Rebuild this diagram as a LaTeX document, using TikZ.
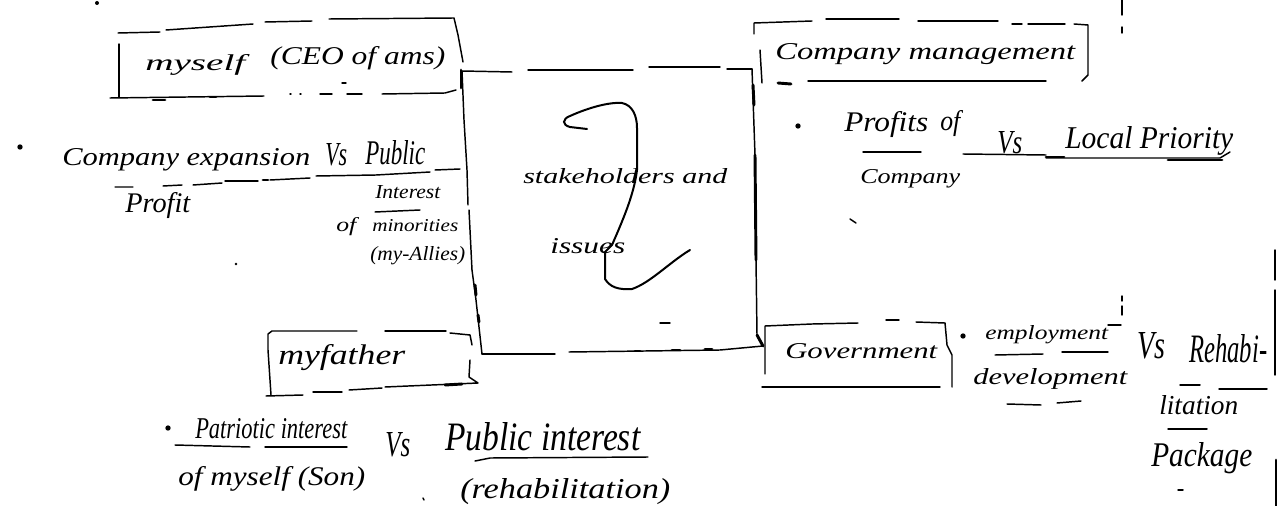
\documentclass[tikz,border=0pt]{standalone}
\usepackage{fontspec}
\usepackage{graphicx}
\setmainfont{Liberation Serif}
\newcommand{\hwtext}[6]{\node[hand] (#1) at (#2,#3) {\resizebox{\dimexpr 0.75pt*#4\relax}{\dimexpr 0.75pt*#5\relax}{#6}};}
\tikzset{
  hand/.style={anchor=base west,inner sep=0pt,font=\itshape\fontsize{20}{22}\selectfont,text=black},
  ink/.style={line width=1.1pt,black,line cap=round,line join=round},
  heavy/.style={line width=2.2pt,black,line cap=round,line join=round},
  speck/.style={circle,fill=black,inner sep=0pt,minimum size=4pt}
}
\begin{document}
\begin{tikzpicture}[x=0.75pt,y=-0.75pt]
\useasboundingbox (0,0) rectangle (1277,506);
\fill[white] (0,0) rectangle (1277,506);

% hub corners
\coordinate (hubTL) at (462,71);
\coordinate (hubTR) at (752,69);
\coordinate (hubBL) at (482,354);
\coordinate (hubBR) at (763,346);

% texts
\hwtext{myselfT}{145}{71}{100}{16}{myself}
\hwtext{ceo}{270}{65}{175}{18}{(CEO of ams)}
\hwtext{expansion}{62}{166}{248}{17}{Company expansion}
\hwtext{vsA}{325}{166}{22}{22}{Vs}
\hwtext{publicA}{365}{165}{60}{24}{Public}
\hwtext{profit}{125}{212}{65}{20}{Profit}
\hwtext{interestA}{375}{199}{65}{13}{Interest}
\hwtext{ofA}{336}{231}{20}{14}{of}
\hwtext{minorities}{372}{231}{86}{12}{minorities}
\hwtext{allies}{370}{260}{95}{14}{(my-Allies)}
\hwtext{stake}{523}{184}{204}{15}{stakeholders and}
\hwtext{issues}{550}{253}{75}{15}{issues}
\hwtext{mgmt}{775}{60}{300}{16}{Company management}
\hwtext{profits}{844}{132}{84}{20}{Profits}
\hwtext{ofB}{940}{131}{20}{20}{of}
\hwtext{company}{860}{183}{100}{14}{Company}
\hwtext{vsB}{997}{154}{25}{22}{Vs}
\hwtext{local}{1065}{149}{168}{22}{Local Priority}
\hwtext{gov}{785}{358}{152}{15}{Government}
\hwtext{employment}{985}{339}{123}{14}{employment}
\hwtext{development}{973}{384}{154}{16}{development}
\hwtext{vsC}{1137}{358}{28}{26}{Vs}
\hwtext{rehabi}{1189}{362}{78}{28}{Rehabi-}
\hwtext{litation}{1159}{414}{79}{19}{litation}
\hwtext{package}{1151}{466}{101}{24}{Package}
\hwtext{father}{278}{364}{127}{20}{myfather}
\hwtext{patriotic}{195}{438}{152}{20}{Patriotic interest}
\hwtext{son}{178}{485}{187}{19}{of myself (Son)}
\hwtext{vsD}{385}{456}{25}{24}{Vs}
\hwtext{publicB}{445}{450}{195}{28}{Public interest}
\hwtext{rehab}{460}{498}{210}{20}{(rehabilitation)}

% central box
\draw[ink] (hubTL) -- (512,72);
\draw[ink] (528,70) -- (633,70);
\draw[ink] (649,67) -- (720,67);
\draw[ink] (727,69) -- (hubTR);
\draw[ink] (hubTL) -- (464,120) -- (467,170) -- (468,205);
\draw[ink] (469,210) -- (472,270);
\draw[ink] (472,270) -- (476,300) -- (hubBL);
\draw[heavy] (475,285) -- (476,295) (478,315) -- (479,322);
\draw[heavy] (753,85) -- (754,105);
\draw[ink] (hubTR) -- (755,155);
\draw[heavy] (755,155) -- (756,260);
\draw[ink] (756,260) -- (757,335);
\draw[heavy] (757,335) -- (hubBR);
\draw[ink] (hubBL) -- (555,354);
\draw[ink] (569,352) -- (720,350) -- (hubBR);
\draw[heavy] (635,351) -- (640,351) (672,350) -- (680,350) (705,349) -- (712,349);
\draw[ink] (660,323) -- (670,323);

% squiggle
\draw[line width=1.5pt,black,line cap=round] (587,129) -- (570,127) .. controls (562,125) and (562,119) .. (570,116)
  .. controls (590,107) and (610,102) .. (622,103) .. controls (632,105) and (637,115) .. (637,128)
  -- (637,170) .. controls (634,195) and (622,222) .. (612,245) -- (605,252) -- (605,279)
  .. controls (610,287) and (618,290) .. (632,289) .. controls (650,283) and (670,262) .. (690,250);

% myself box
\draw[ink] (118,33) -- (160,32);
\draw[ink] (166,30) -- (253,24);
\draw[ink] (265,22) -- (312,21);
\draw[ink] (329,19) -- (454,18) -- (458,35) -- (463,62);
\draw[ink] (119,44) -- (119,97);
\draw[ink] (110,98) -- (264,96);
\draw[ink] (290,94) -- (291,94) (300,94) -- (301,94) (320,94) -- (332,94) (347,94) -- (362,94);
\draw[ink] (382,94) -- (445,93) -- (456,90);
\draw[heavy] (461,70) -- (461,88);
\draw[ink] (342,83) -- (346,83);
\draw[heavy] (153,100) -- (165,100) (210,97) -- (216,97);

% company expansion line
\draw[ink] (193,185) -- (222,183);
\draw[ink] (225,181) -- (258,181);
\draw[heavy] (263,180) -- (268,180);
\draw[ink] (270,180) -- (310,178);
\draw[ink] (316,176) -- (376,175) -- (430,172);
\draw[ink] (435,170) -- (460,169);
\draw[ink] (115,187) -- (133,187) (163,186) -- (182,185);
\draw[ink] (375,212) -- (420,210);
\node[speck] (bulA) at (20,147) {};

% right top box
\draw[ink] (754,34) -- (754,23) -- (812,21);
\draw[ink] (826,19) -- (899,19);
\draw[ink] (918,21) -- (998,21);
\draw[ink] (1012,24) -- (1022,24) (1028,24) -- (1065,24);
\draw[ink] (1074,24) -- (1088,25) -- (1088,75) -- (1082,81);
\draw[ink] (760,50) -- (762,83);
\draw[heavy] (778,83) -- (791,84);
\draw[ink] (808,81) -- (1046,81);
\draw[ink] (863,152) -- (921,152);
\draw[ink] (963,154) -- (1046,155);
\draw[ink] (1046,158) -- (1220,158) -- (1230,152);
\draw[heavy] (1046,157) -- (1064,157) (1168,160) -- (1222,160);
\draw[ink] (850,219) -- (856,223);
\node[speck] (bulB) at (798,126) {};
\draw[ink] (1122,0) -- (1122,15) (1122,27) -- (1122,33);

% government box
\draw[ink] (765,374) -- (765,326) -- (812,324) -- (858,323);
\draw[ink] (886,320) -- (899,320);
\draw[ink] (916,322) -- (945,323) -- (947,345) -- (952,355) -- (952,387);
\draw[ink] (762,387) -- (940,387);
\draw[ink] (1108,325) -- (1121,325);
\draw[ink] (995,355) -- (1043,354);
\draw[ink] (1062,352) -- (1108,352);
\draw[ink] (1007,404) -- (1041,405);
\draw[ink] (1057,403) -- (1081,401);
\draw[ink] (1180,385) -- (1200,385);
\draw[ink] (1219,389) -- (1267,389);
\draw[ink] (1168,429) -- (1207,429);
\draw[ink] (1178,490) -- (1183,490);
\node[speck] (bulC) at (963,336) {};
\draw[ink] (1122,296) -- (1122,301) (1122,306) -- (1122,315);

% father box
\draw[ink] (271,395) -- (268,350) -- (268,334) -- (272,331) -- (357,331);
\draw[ink] (385,331) -- (446,331);
\draw[ink] (450,333) -- (470,335) -- (472,345);
\draw[ink] (470,360) -- (469,377) -- (478,383) -- (385,387);
\draw[ink] (349,390) -- (382,388);
\draw[ink] (313,392) -- (342,392);
\draw[ink] (266,396) -- (303,395);
\draw[heavy] (445,385) -- (462,384);
\node[speck] (bulD) at (168,428) {};
\draw[ink] (175,445) -- (250,447);
\draw[ink] (265,447) -- (347,447);
\draw[ink] (475,461) -- (490,458) -- (648,457);

% specks and margin
\fill (97,3) circle (1.5pt);
\fill (236,264) circle (1pt);
\draw[ink] (423,498) -- (424,500);
\draw[ink] (1275,250) -- (1275,280) (1275,290) -- (1275,375);
\draw[heavy] (1276,460) -- (1276,506);
\end{tikzpicture}
\end{document}
